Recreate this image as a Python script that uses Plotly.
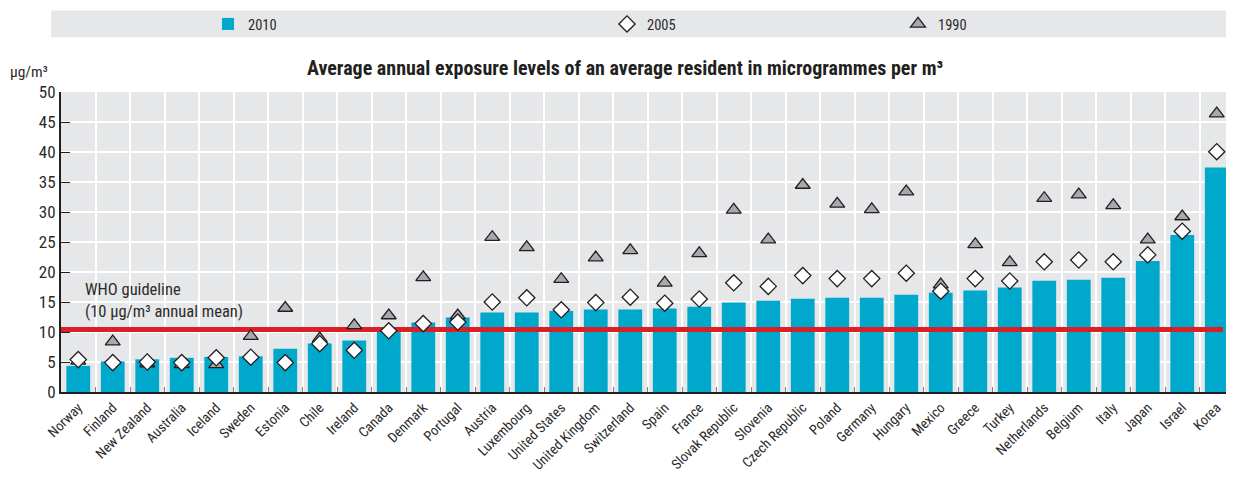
import numpy as np
import plotly.graph_objects as go

countries = ["Norway", "Finland", "New Zealand", "Australia", "Iceland", "Sweden", "Estonia",
             "Chile", "Ireland", "Canada", "Denmark", "Portugal", "Austria", "Luxembourg",
             "United States", "United Kingdom", "Switzerland", "Spain", "France",
             "Slovak Republic", "Slovenia", "Czech Republic", "Poland", "Germany", "Hungary",
             "Mexico", "Greece", "Turkey", "Netherlands", "Belgium", "Italy", "Japan",
             "Israel", "Korea"]
v2010 = [4.35, 5.1, 5.45, 5.7, 5.85, 5.95, 7.2, 8.1, 8.6, 10.15, 11.6, 12.4, 13.25, 13.25,
         13.5, 13.75, 13.75, 13.9, 14.2, 14.9, 15.2, 15.55, 15.7, 15.7, 16.2, 16.55, 16.9,
         17.4, 18.55, 18.7, 19.05, 21.85, 26.15, 37.4]
v2005 = [5.4, 4.9, 5.0, 4.9, 5.7, 5.8, 4.9, 8.05, 6.95, 10.2, 11.4, 11.65, 15.0, 15.7,
         13.7, 14.9, 15.8, 14.8, 15.5, 18.2, 17.6, 19.4, 18.9, 18.9, 19.8, 16.8, 18.9,
         18.5, 21.7, 22.0, 21.7, 22.85, 26.8, 40.05]
v1990 = [5.2, 8.4, 4.75, 4.6, 4.6, 9.3, 14.0, 8.9, 11.1, 12.75, 19.1, 12.75, 25.8, 24.1,
         18.8, 22.4, 23.6, 18.2, 23.1, 30.35, 25.4, 34.5, 31.35, 30.45, 33.4, 17.9, 24.6,
         21.6, 32.3, 32.9, 31.1, 25.4, 29.25, 46.4]
who_level = 10.4
y_ticks = [0, 5, 10, 15, 20, 25, 30, 35, 40, 45, 50]

FONT = "Roboto Condensed, Liberation Sans Narrow, Arial Narrow, sans-serif"
TXT = "#2b2b2b"
BG = "#e6e7e8"

xs = np.arange(len(countries))

fig = go.Figure()
fig.add_trace(go.Bar(x=xs, y=v2010, name="2010", marker=dict(color="#00a8cc", line=dict(width=0)),
                     width=0.69, legend="legend"))
fig.add_trace(go.Scatter(x=[-0.5, 33.18], y=[who_level, who_level], mode="lines",
                         line=dict(color="#dc1f26", width=5), showlegend=False, hoverinfo="skip"))
fig.add_trace(go.Scatter(x=xs, y=v1990, name="1990", mode="markers",
                         marker=dict(symbol="triangle-up", size=13, color="#a7a9ac",
                                     line=dict(color="#231f20", width=1.3)), legend="legend3"))
fig.add_trace(go.Scatter(x=xs, y=v2005, name="2005", mode="markers",
                         marker=dict(symbol="diamond", size=12.5, color="white",
                                     line=dict(color="#231f20", width=1.3)), legend="legend2"))

# screen coordinates helpers (page body has an 8px margin)
H = 302.0
W = 1173.0
def py(px):
    return (392 - px) / H
def pxp(px):
    return (px - 61) / W

leg_common = dict(orientation="h", bgcolor="rgba(0,0,0,0)", font=dict(family=FONT, size=14.5, color=TXT),
                  xanchor="left", yanchor="middle", y=py(21))
fig.update_layout(
    width=1226, height=482,
    margin=dict(l=53, r=0, t=82, b=98, pad=0),
    paper_bgcolor="white", plot_bgcolor=BG,
    legend=dict(x=pxp(208), **leg_common),
    legend2=dict(x=pxp(607), **leg_common),
    legend3=dict(x=pxp(898), **leg_common),
    xaxis=dict(range=[-0.5, 33.5], tickmode="array", tickvals=list(xs), ticktext=countries,
               tickangle=-45, showgrid=False, ticks="", zeroline=False,
               showline=True, linecolor="#231f20", linewidth=2,
               tickfont=dict(family=FONT, size=14, color=TXT),
               minor=dict(tickmode="array", tickvals=[i + 0.5 for i in range(len(countries) - 1)],
                          showgrid=True, gridcolor="white", gridwidth=2,
                          ticks="inside", ticklen=5, tickcolor="#808080", tickwidth=1)),
    yaxis=dict(range=[0, 50], tickmode="array", tickvals=y_ticks, showgrid=True,
               gridcolor="white", gridwidth=2, zeroline=False,
               showline=True, linecolor="#231f20", linewidth=2,
               ticks="inside", ticklen=9, tickcolor="#231f20", tickwidth=1,
               tickfont=dict(family=FONT, size=17, color=TXT)),
    shapes=[dict(type="rect", xref="paper", yref="paper", x0=pxp(51), x1=1.0,
                 y0=py(35), y1=py(8), fillcolor=BG, line=dict(width=0), layer="below")],
    annotations=[
        dict(text="<b>Average annual exposure levels of an average resident in microgrammes per m³</b>",
             xref="paper", yref="paper", x=pxp(625), y=py(66), showarrow=False,
             xanchor="center", yanchor="middle", font=dict(family=FONT, size=20, color="#231f20")),
        dict(text="µg/m³", xref="paper", yref="paper", x=pxp(50), y=py(70), showarrow=False,
             xanchor="right", yanchor="middle", font=dict(family=FONT, size=15.5, color=TXT)),
        dict(text="WHO guideline", xref="paper", yref="y", x=pxp(83), y=17.05, showarrow=False,
             xanchor="left", yanchor="middle", font=dict(family=FONT, size=16.5, color=TXT)),
        dict(text="(10 µg/m³ annual mean)", xref="paper", yref="y", x=pxp(83), y=13.4, showarrow=False,
             xanchor="left", yanchor="middle", font=dict(family=FONT, size=16.5, color=TXT)),
    ],
)

fig.write_html("out.html")
